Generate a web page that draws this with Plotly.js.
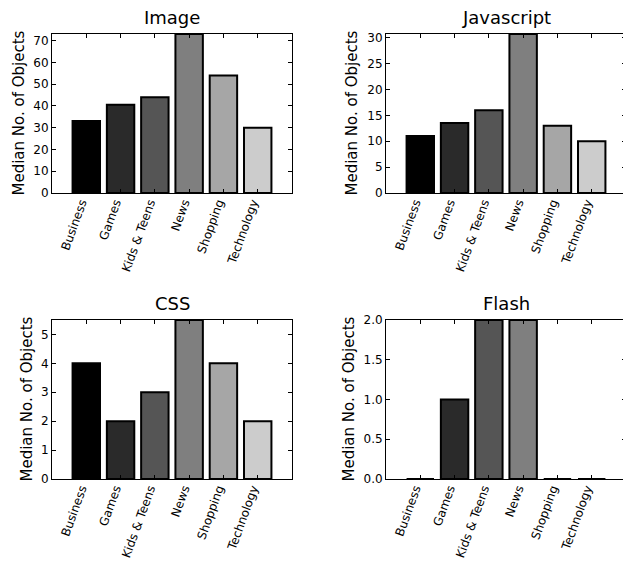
<!DOCTYPE html>
<html>
<head>
<meta charset="utf-8">
<script src="https://cdn.plot.ly/plotly-3.0.1.min.js"></script>
<style>
html,body{margin:0;padding:0;overflow:hidden;background:#fff;}
#chart{width:640px;height:561px;}
</style>
</head>
<body>
<div id="chart"></div>
<script>
// ---- data ----
var categories = ["Business", "Games", "Kids & Teens", "News", "Shopping", "Technology"];
var imageValues = [33, 40.5, 44, 73, 54, 30];
var javascriptValues = [11, 13.5, 16, 30.7, 13, 10];
var cssValues = [4, 2, 3, 5.5, 4, 2];
var flashValues = [0, 1, 2, 2, 0, 0];
var panelTitles = ["Image", "Javascript", "CSS", "Flash"];
var yLabel = "Median No. of Objects";
var barColors = ["#000000", "#2a2a2a", "#555555", "#7f7f7f", "#a6a6a6", "#cccccc"];

// ---- layout geometry (pixels) ----
var W = 640, H = 561;
var FONT = "DejaVu Sans, sans-serif";
function fx(px){ return px / W; }
function fy(px){ return (H - px) / H; }

var panels = [
  {vals: imageValues, xa: "x", ya: "y", left: 52, right: 292, top: 34, bottom: 193, range: [0, 73], dtick: 10, fmt: "", labelX: 19},
  {vals: javascriptValues, xa: "x2", ya: "y2", left: 386, right: 626, top: 34, bottom: 193, range: [0, 30.7], dtick: 5, fmt: "", labelX: 352},
  {vals: cssValues, xa: "x3", ya: "y3", left: 52, right: 292, top: 320, bottom: 479, range: [0, 5.5], dtick: 1, fmt: "", labelX: 26},
  {vals: flashValues, xa: "x4", ya: "y4", left: 386, right: 626, top: 320, bottom: 479, range: [0, 2], dtick: 0.5, fmt: ".1f", labelX: 348}
];

var data = [];
var layout = {
  width: W, height: H,
  margin: {l: 0, r: 0, t: 0, b: 0},
  paper_bgcolor: "#ffffff", plot_bgcolor: "#ffffff",
  showlegend: false,
  bargap: 0.2,
  font: {family: FONT, size: 12, color: "#000"},
  annotations: []
};

panels.forEach(function(p, i){
  data.push({
    type: "bar",
    x: categories,
    y: p.vals,
    xaxis: p.xa, yaxis: p.ya,
    width: 0.8,
    marker: {color: barColors, line: {color: "#000000", width: 2}},
    hoverinfo: "none"
  });
  var n = p.xa === "x" ? "" : p.xa.slice(1);
  layout["xaxis" + n] = {
    domain: [fx(p.left), fx(p.right)],
    anchor: p.ya,
    type: "category",
    range: [-1, 6],
    showline: true, linecolor: "#000", linewidth: 1, mirror: "ticks",
    ticks: "inside", ticklen: 4, tickwidth: 1, tickcolor: "#000",
    tickangle: -70,
    ticklabelstandoff: -3,
    ticklabelshift: -5,
    tickfont: {family: FONT, size: 12, color: "#000"},
    showgrid: false, zeroline: false, fixedrange: true
  };
  layout["yaxis" + n] = {
    domain: [fy(p.bottom), fy(p.top)],
    anchor: p.xa,
    range: p.range,
    dtick: p.dtick, tick0: 0,
    tickformat: p.fmt,
    showline: true, linecolor: "#000", linewidth: 1, mirror: "ticks",
    ticks: "inside", ticklen: 4, tickwidth: 1, tickcolor: "#000",
    tickfont: {family: FONT, size: 12, color: "#000"},
    showgrid: false, zeroline: false, fixedrange: true
  };
  layout.annotations.push({
    text: panelTitles[i], xref: "paper", yref: "paper",
    x: fx((p.left + p.right) / 2), y: fy(p.top - 4),
    xanchor: "center", yanchor: "bottom", showarrow: false,
    font: {family: FONT, size: 18, color: "#000"}
  });
  layout.annotations.push({
    text: yLabel, xref: "paper", yref: "paper",
    x: fx(p.labelX), y: fy((p.top + p.bottom) / 2),
    xanchor: "center", yanchor: "middle", textangle: -90, showarrow: false,
    font: {family: FONT, size: 15, color: "#000"}
  });
});

Plotly.newPlot("chart", data, layout, {displayModeBar: false, staticPlot: true});
</script>
</body>
</html>
